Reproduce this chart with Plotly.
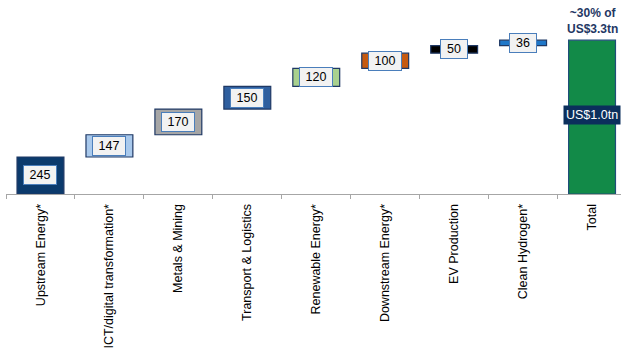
import plotly.graph_objects as go

# Investment contribution by sector (US$bn)
categories = [
    "Upstream Energy*",
    "ICT/digital transformation*",
    "Metals & Mining",
    "Transport & Logistics",
    "Renewable Energy*",
    "Downstream Energy*",
    "EV Production",
    "Clean Hydrogen*",
]
values = [245, 147, 170, 150, 120, 100, 50, 36]
total_label = "Total"
total_note = "~30% of<br>US$3.3tn"
total_badge = "US$1.0tn"

bar_colors = ["#0b3a6c", "#a9c9ec", "#a6a6a6", "#2f5f9f",
              "#a9d18e", "#c55a11", "#000000", "#1f77c8"]
total_color = "#128a48"
edge_color = "#1f3864"

# cumulative bases for the floating bars
bases = []
running = 0
for v in values:
    bases.append(running)
    running += v
total = running

x_all = categories + [total_label]
font_family = "Arial, Liberation Sans, sans-serif"

fig = go.Figure()
fig.add_trace(go.Bar(
    x=categories, y=values, base=bases, width=0.68,
    marker=dict(color=bar_colors, line=dict(color=edge_color, width=1.2)),
    hoverinfo="skip",
))
fig.add_trace(go.Bar(
    x=[total_label], y=[total], base=[0], width=0.68,
    marker=dict(color=total_color, line=dict(color="#1f4e79", width=1.2)),
    hoverinfo="skip",
))

annotations = []
for cat, b, v in zip(categories, bases, values):
    txt = str(v)
    annotations.append(dict(
        x=cat, y=b + v / 2, text=txt, showarrow=False,
        font=dict(family=font_family, size=12.5, color="#000000"),
        bgcolor="#f2f2f2", bordercolor="#4a7ebb", borderwidth=1,
        borderpad=2, width=6 * len(txt) + 10, height=14,
        xanchor="center", yanchor="middle",
    ))

annotations.append(dict(
    x=total_label, y=total, text=total_note, showarrow=False,
    font=dict(family=font_family, size=12, color="#1f3864", weight="bold"),
    xanchor="center", yanchor="bottom", yshift=2,
))
annotations.append(dict(
    x=total_label, y=total / 2, text=total_badge, showarrow=False,
    font=dict(family=font_family, size=12.5, color="#ffffff"),
    bgcolor="#0b2f5c", borderpad=2,
    xanchor="center", yanchor="middle", yshift=2,
))

fig.update_layout(
    width=621, height=349,
    margin=dict(l=6, r=0, t=0, b=153),
    paper_bgcolor="#ffffff", plot_bgcolor="#ffffff",
    showlegend=False, barmode="overlay",
    annotations=annotations,
    font=dict(family=font_family, size=12, color="#000000"),
)
fig.update_xaxes(
    type="category", categoryorder="array", categoryarray=x_all,
    range=[-0.5, 8.42], tickangle=-90, tickson="boundaries",
    ticks="outside", ticklen=4, tickcolor="#a6a6a6",
    ticklabelstandoff=4,
    showline=True, linecolor="#a6a6a6", linewidth=1,
    showgrid=False, zeroline=False,
    tickfont=dict(family=font_family, size=12.5, color="#000000"),
)
fig.update_yaxes(range=[0, 1284], visible=False, showgrid=False, zeroline=False)

fig.write_html("out.html")
